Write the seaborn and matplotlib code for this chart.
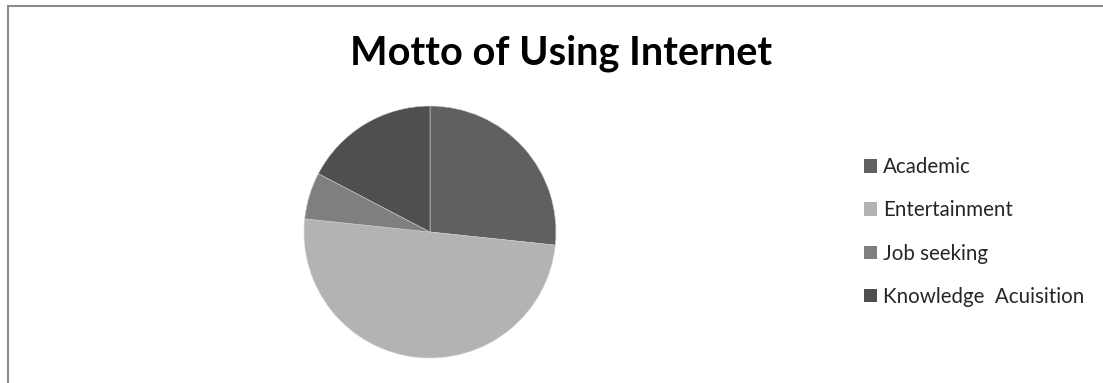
import matplotlib
matplotlib.use("Agg")
import matplotlib.pyplot as plt
import seaborn as sns
from matplotlib.patches import Rectangle, Patch

# data
categories = ["Academic", "Entertainment", "Job seeking", "Knowledge  Acuisition"]
counts = [40, 75, 9, 26]
colors = ["#606060", "#b3b3b3", "#7f7f7f", "#4f4f4f"]

sns.set_theme(style="white")
plt.rcParams["font.family"] = ["Lato", "DejaVu Sans"]

W, H = 1103, 383
fig = plt.figure(figsize=(W / 100, H / 100), dpi=100)

# outer chart frame
fig.patches.append(Rectangle((8 / W, -0.05), 1.1, (H - 6) / H + 0.05, transform=fig.transFigure,
                             fill=False, edgecolor="#8c8c8c", linewidth=1.5))

# pie axis: center (430, 232), radius 126 px
r = 126
ax = fig.add_axes([(430 - r) / W, (H - 232 - r) / H, 2 * r / W, 2 * r / H])
ax.pie(counts, colors=colors, startangle=90, counterclock=False, radius=1,
       wedgeprops=dict(edgecolor="#d0d0d0", linewidth=0.4))
ax.set_xlim(-1, 1)
ax.set_ylim(-1, 1)
ax.set_aspect("equal")
ax.axis("off")

fig.text(561 / W, 1 - 65 / H, "Motto of Using Internet", ha="center", va="baseline",
         fontsize=28.5, fontweight="bold", color="black")

handles = [Patch(facecolor=c, edgecolor="none") for c in colors]
fig.legend(handles, categories, loc="center left", bbox_to_anchor=(864 / W, 1 - 232 / H),
           frameon=False, fontsize=14.8, handlelength=0.62, handleheight=0.62,
           handletextpad=0.3, labelspacing=1.13, borderpad=0, borderaxespad=0)

fig.savefig("out.png", dpi=100, facecolor="white")
